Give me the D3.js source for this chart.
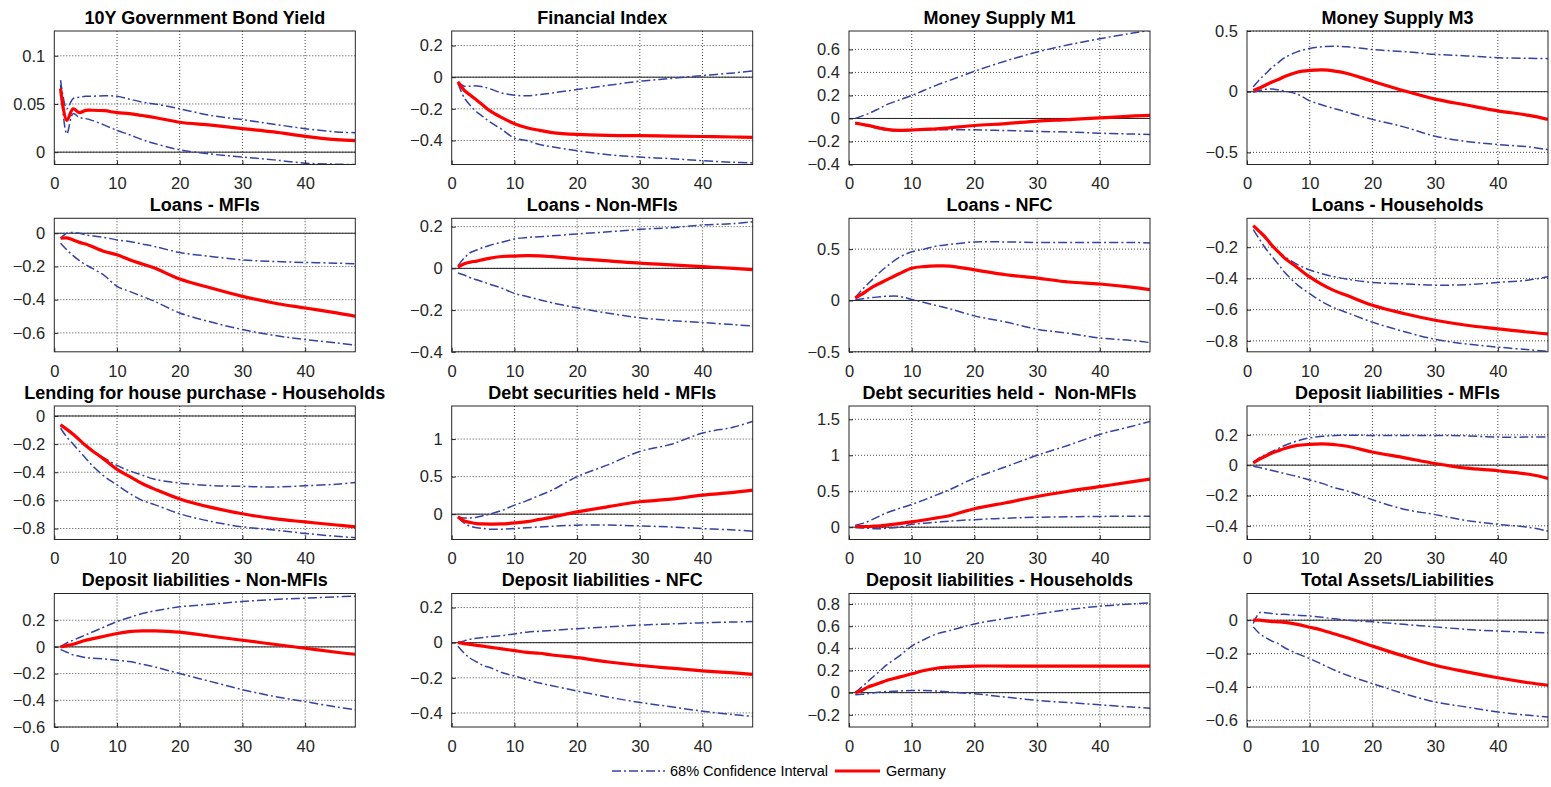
<!DOCTYPE html>
<html>
<head>
<meta charset="utf-8">
<script src="https://cdn.jsdelivr.net/npm/d3@7"></script>
<style>
  body { margin: 0; background: #fff; }
  svg { font-family: "Liberation Sans", Arial, Helvetica, sans-serif; }
</style>
</head>
<body>
<script>
var H = [1, 2, 3, 4, 5, 6, 8, 10, 12, 14, 16, 20, 25, 30, 35, 40, 45, 48];

var titles = [
  "10Y Government Bond Yield", "Financial Index", "Money Supply M1", "Money Supply M3",
  "Loans - MFIs", "Loans - Non-MFIs", "Loans - NFC", "Loans - Households",
  "Lending for house purchase - Households", "Debt securities held - MFIs",
  "Debt securities held -  Non-MFIs", "Deposit liabilities - MFIs",
  "Deposit liabilities - Non-MFIs", "Deposit liabilities - NFC",
  "Deposit liabilities - Households", "Total Assets/Liabilities"
];

var xTicks = [0, 10, 20, 30, 40];

var yTicks = [
  [0, 0.05, 0.1], [-0.4, -0.2, 0, 0.2], [-0.4, -0.2, 0, 0.2, 0.4, 0.6], [-0.5, 0, 0.5],
  [-0.6, -0.4, -0.2, 0], [-0.4, -0.2, 0, 0.2], [-0.5, 0, 0.5], [-0.8, -0.6, -0.4, -0.2],
  [-0.8, -0.6, -0.4, -0.2, 0], [0, 0.5, 1], [0, 0.5, 1, 1.5], [-0.4, -0.2, 0, 0.2],
  [-0.6, -0.4, -0.2, 0, 0.2], [-0.4, -0.2, 0, 0.2], [-0.2, 0, 0.2, 0.4, 0.6, 0.8], [-0.6, -0.4, -0.2, 0]
];

var yDomains = [
  [-0.0128, 0.1257], [-0.552, 0.292], [-0.4, 0.76], [-0.6, 0.5],
  [-0.714, 0.09], [-0.4, 0.24], [-0.5, 0.8], [-0.87, -0.015],
  [-0.878, 0.071], [-0.337, 1.44], [-0.171, 1.685], [-0.49, 0.39],
  [-0.6, 0.4], [-0.48, 0.28], [-0.31, 0.895], [-0.64, 0.16]
];

// 68% confidence band, lower edge
var lowerCI = [
  [0.07, 0.019, 0.040, 0.036, 0.0348, 0.033, 0.028, 0.0226, 0.018, 0.013, 0.009, 0.0025, -0.002, -0.005, -0.008, -0.0114, -0.0125, -0.0128],
  [-0.04, -0.13, -0.18, -0.22, -0.25, -0.28, -0.33, -0.385, -0.40, -0.425, -0.44, -0.465, -0.49, -0.505, -0.515, -0.528, -0.538, -0.542],
  [-0.035, -0.05, -0.065, -0.08, -0.09, -0.1, -0.11, -0.104, -0.1, -0.098, -0.097, -0.099, -0.105, -0.113, -0.118, -0.128, -0.135, -0.139],
  [-0.005, 0.01, 0.02, 0.022, 0.015, 0.005, -0.02, -0.075, -0.11, -0.14, -0.17, -0.228, -0.29, -0.367, -0.41, -0.436, -0.455, -0.478],
  [-0.06, -0.1, -0.135, -0.165, -0.19, -0.21, -0.255, -0.32, -0.35, -0.38, -0.41, -0.48, -0.535, -0.58, -0.615, -0.64, -0.66, -0.674],
  [-0.022, -0.032, -0.045, -0.055, -0.065, -0.075, -0.095, -0.12, -0.135, -0.15, -0.165, -0.189, -0.215, -0.237, -0.25, -0.26, -0.27, -0.276],
  [0.01, 0.015, 0.025, 0.03, 0.035, 0.04, 0.04, 0.01, -0.02, -0.05, -0.08, -0.15, -0.21, -0.28, -0.32, -0.365, -0.39, -0.41],
  [-0.088, -0.15, -0.21, -0.26, -0.31, -0.36, -0.44, -0.497, -0.55, -0.59, -0.62, -0.68, -0.74, -0.79, -0.82, -0.84, -0.857, -0.867],
  [-0.087, -0.15, -0.2, -0.25, -0.3, -0.35, -0.43, -0.49, -0.55, -0.6, -0.63, -0.695, -0.75, -0.788, -0.81, -0.835, -0.855, -0.865],
  [-0.045, -0.12, -0.16, -0.18, -0.19, -0.2, -0.2, -0.19, -0.18, -0.17, -0.16, -0.147, -0.145, -0.156, -0.17, -0.192, -0.21, -0.228],
  [0.0, -0.01, -0.015, -0.02, -0.02, -0.015, 0.0, 0.04, 0.055, 0.07, 0.085, 0.105, 0.125, 0.138, 0.145, 0.15, 0.152, 0.152],
  [-0.007, -0.015, -0.025, -0.035, -0.045, -0.055, -0.075, -0.098, -0.12, -0.15, -0.17, -0.228, -0.29, -0.326, -0.365, -0.39, -0.41, -0.435],
  [-0.02, -0.04, -0.06, -0.07, -0.08, -0.085, -0.09, -0.1, -0.11, -0.13, -0.15, -0.2, -0.26, -0.32, -0.37, -0.41, -0.45, -0.47],
  [-0.02, -0.06, -0.09, -0.11, -0.13, -0.14, -0.17, -0.19, -0.21, -0.23, -0.245, -0.275, -0.31, -0.34, -0.365, -0.39, -0.41, -0.42],
  [-0.02, -0.015, -0.01, 0.0, 0.005, 0.01, 0.015, 0.02, 0.02, 0.015, 0.005, -0.01, -0.04, -0.07, -0.09, -0.11, -0.13, -0.14],
  [-0.04, -0.08, -0.105, -0.125, -0.14, -0.165, -0.2, -0.23, -0.265, -0.3, -0.33, -0.38, -0.44, -0.49, -0.52, -0.55, -0.57, -0.58]
];

// 68% confidence band, upper edge
var upperCI = [
  [0.0747, 0.045, 0.0556, 0.057, 0.058, 0.058, 0.0585, 0.058, 0.055, 0.052, 0.050, 0.045, 0.038, 0.0337, 0.029, 0.0244, 0.021, 0.0202],
  [-0.03, -0.057, -0.057, -0.055, -0.061, -0.072, -0.10, -0.114, -0.118, -0.11, -0.10, -0.078, -0.051, -0.025, -0.008, 0.01, 0.027, 0.04],
  [0.0, 0.02, 0.04, 0.065, 0.09, 0.12, 0.16, 0.2, 0.245, 0.29, 0.33, 0.41, 0.5, 0.577, 0.64, 0.693, 0.74, 0.765],
  [0.04, 0.1, 0.15, 0.2, 0.24, 0.28, 0.328, 0.356, 0.37, 0.375, 0.37, 0.347, 0.33, 0.308, 0.295, 0.28, 0.275, 0.272],
  [-0.03, 0.0, 0.004, 0.0, -0.01, -0.015, -0.025, -0.04, -0.05, -0.065, -0.08, -0.116, -0.14, -0.16, -0.17, -0.176, -0.18, -0.184],
  [0.013, 0.05, 0.076, 0.088, 0.1, 0.11, 0.125, 0.141, 0.148, 0.152, 0.156, 0.165, 0.175, 0.187, 0.195, 0.208, 0.215, 0.224],
  [0.026, 0.1, 0.16, 0.22, 0.28, 0.33, 0.42, 0.474, 0.5, 0.53, 0.545, 0.57, 0.57, 0.565, 0.565, 0.565, 0.565, 0.56],
  [-0.067, -0.1, -0.14, -0.19, -0.23, -0.26, -0.31, -0.346, -0.37, -0.39, -0.405, -0.426, -0.435, -0.443, -0.44, -0.426, -0.41, -0.39],
  [-0.063, -0.095, -0.13, -0.17, -0.21, -0.245, -0.3, -0.351, -0.39, -0.42, -0.45, -0.477, -0.495, -0.5, -0.505, -0.496, -0.485, -0.473],
  [-0.036, -0.05, -0.05, -0.04, -0.02, 0.0, 0.05, 0.12, 0.18, 0.25, 0.32, 0.5, 0.66, 0.835, 0.93, 1.08, 1.16, 1.237],
  [0.028, 0.05, 0.08, 0.12, 0.16, 0.2, 0.26, 0.317, 0.38, 0.45, 0.52, 0.683, 0.84, 1.0, 1.14, 1.29, 1.4, 1.47],
  [0.015, 0.05, 0.07, 0.09, 0.11, 0.13, 0.16, 0.18, 0.19, 0.195, 0.197, 0.196, 0.195, 0.196, 0.193, 0.185, 0.185, 0.185],
  [0.0, 0.03, 0.05, 0.07, 0.09, 0.11, 0.15, 0.19, 0.22, 0.25, 0.27, 0.3, 0.32, 0.34, 0.355, 0.365, 0.375, 0.38],
  [0.0, 0.01, 0.02, 0.025, 0.03, 0.035, 0.04, 0.05, 0.06, 0.065, 0.07, 0.08, 0.09, 0.1, 0.107, 0.113, 0.118, 0.12],
  [0.0, 0.05, 0.1, 0.15, 0.2, 0.25, 0.33, 0.42, 0.48, 0.53, 0.56, 0.62, 0.67, 0.71, 0.75, 0.78, 0.8, 0.81],
  [-0.02, 0.045, 0.045, 0.04, 0.035, 0.035, 0.03, 0.025, 0.017, 0.008, 0.0, -0.01, -0.025, -0.04, -0.055, -0.065, -0.072, -0.075]
];

// median response, Germany
var germany = [
  [0.066, 0.033, 0.045, 0.041, 0.0434, 0.0435, 0.043, 0.041, 0.040, 0.038, 0.036, 0.031, 0.028, 0.0244, 0.021, 0.0164, 0.013, 0.0119],
  [-0.03, -0.083, -0.114, -0.146, -0.178, -0.21, -0.256, -0.294, -0.32, -0.336, -0.35, -0.362, -0.368, -0.37, -0.372, -0.375, -0.378, -0.381],
  [-0.04, -0.05, -0.06, -0.072, -0.085, -0.095, -0.104, -0.1, -0.095, -0.09, -0.082, -0.061, -0.045, -0.023, -0.01, 0.005, 0.02, 0.026],
  [0.01, 0.03, 0.055, 0.08, 0.1, 0.125, 0.16, 0.175, 0.18, 0.17, 0.15, 0.086, 0.008, -0.061, -0.11, -0.158, -0.195, -0.228],
  [-0.03, -0.028, -0.04, -0.055, -0.065, -0.08, -0.11, -0.13, -0.16, -0.185, -0.21, -0.276, -0.33, -0.38, -0.42, -0.45, -0.48, -0.5],
  [0.006, 0.022, 0.03, 0.035, 0.042, 0.048, 0.057, 0.059, 0.061, 0.06, 0.056, 0.046, 0.036, 0.025, 0.017, 0.008, 0.0, -0.006],
  [0.026, 0.06, 0.1, 0.14, 0.17, 0.2, 0.26, 0.314, 0.33, 0.336, 0.335, 0.298, 0.25, 0.218, 0.18, 0.16, 0.13, 0.106],
  [-0.062, -0.1, -0.14, -0.19, -0.23, -0.27, -0.33, -0.39, -0.44, -0.48, -0.51, -0.572, -0.625, -0.668, -0.7, -0.723, -0.745, -0.755],
  [-0.063, -0.095, -0.13, -0.17, -0.21, -0.245, -0.31, -0.379, -0.43, -0.48, -0.52, -0.59, -0.65, -0.695, -0.73, -0.753, -0.775, -0.788],
  [-0.036, -0.09, -0.11, -0.125, -0.13, -0.132, -0.13, -0.116, -0.1, -0.07, -0.04, 0.03, 0.1, 0.165, 0.2, 0.254, 0.29, 0.32],
  [0.005, 0.008, 0.01, 0.015, 0.02, 0.03, 0.05, 0.073, 0.1, 0.13, 0.16, 0.257, 0.34, 0.427, 0.5, 0.564, 0.63, 0.67],
  [0.015, 0.04, 0.06, 0.08, 0.095, 0.11, 0.13, 0.137, 0.14, 0.135, 0.125, 0.087, 0.05, 0.011, -0.02, -0.037, -0.06, -0.087],
  [0.0, 0.01, 0.02, 0.035, 0.05, 0.06, 0.08, 0.1, 0.115, 0.12, 0.12, 0.11, 0.08, 0.05, 0.02, -0.01, -0.04, -0.055],
  [0.0, -0.005, -0.01, -0.015, -0.02, -0.025, -0.035, -0.045, -0.055, -0.06, -0.07, -0.085, -0.11, -0.13, -0.145, -0.16, -0.172, -0.18],
  [0.0, 0.02, 0.05, 0.07, 0.09, 0.11, 0.14, 0.17, 0.2, 0.22, 0.23, 0.24, 0.24, 0.24, 0.24, 0.24, 0.24, 0.24],
  [0.0, 0.0, -0.004, -0.008, -0.01, -0.013, -0.025, -0.042, -0.06, -0.083, -0.105, -0.155, -0.215, -0.27, -0.31, -0.345, -0.375, -0.39]
];

var W = 1551, Hgt = 787;
var colLeft = [54.3, 451.7, 849, 1247];
var rowTop = [31, 218.3, 406, 593.5];
var pw = 301, ph = 133.5;
var blue = "#3443a3", red = "#ff0000";
var dashDot = "9,3,2,3";

var svg = d3.select("body").append("svg")
  .attr("width", W).attr("height", Hgt);

titles.forEach(function(title, i) {
  var g = svg.append("g")
    .attr("transform", "translate(" + colLeft[i % 4] + "," + rowTop[Math.floor(i / 4)] + ")");

  var x = d3.scaleLinear().domain([0, 48]).range([0, pw]);
  var y = d3.scaleLinear().domain(yDomains[i]).range([ph, 0]);

  g.append("rect").attr("width", pw).attr("height", ph).attr("fill", "#fff");

  // dotted grid
  g.selectAll(".gx").data(xTicks.filter(function(t) { return t > 0; })).enter().append("line")
    .attr("x1", function(d) { return x(d); }).attr("x2", function(d) { return x(d); })
    .attr("y1", 0).attr("y2", ph)
    .attr("stroke", "#333").attr("stroke-dasharray", "1,2").attr("stroke-width", 0.9);
  g.selectAll(".gy").data(yTicks[i]).enter().append("line")
    .attr("x1", 0).attr("x2", pw)
    .attr("y1", function(d) { return y(d); }).attr("y2", function(d) { return y(d); })
    .attr("stroke", "#333").attr("stroke-dasharray", "1,2").attr("stroke-width", 0.9);

  var clipId = "clip" + i;
  g.append("clipPath").attr("id", clipId).append("rect").attr("width", pw).attr("height", ph);
  var plot = g.append("g").attr("clip-path", "url(#" + clipId + ")");

  // zero line
  if (yDomains[i][0] < 0 && yDomains[i][1] > 0) {
    plot.append("line").attr("x1", 0).attr("x2", pw)
      .attr("y1", y(0)).attr("y2", y(0))
      .attr("stroke", "#222").attr("stroke-width", 1);
  }

  var line = d3.line()
    .x(function(d, k) { return x(H[k]); })
    .y(function(d) { return y(d); })
    .curve(d3.curveCatmullRom.alpha(0.5));

  [lowerCI[i], upperCI[i]].forEach(function(s) {
    plot.append("path").attr("d", line(s))
      .attr("fill", "none").attr("stroke", blue).attr("stroke-width", 1.5)
      .attr("stroke-dasharray", dashDot);
  });
  plot.append("path").attr("d", line(germany[i]))
    .attr("fill", "none").attr("stroke", red).attr("stroke-width", 3.2)
    .attr("stroke-linejoin", "round");

  // axes
  var xa = g.append("g").attr("transform", "translate(0," + ph + ")")
    .call(d3.axisBottom(x).tickValues(xTicks).tickSize(-4).tickPadding(10).tickFormat(d3.format("d")));
  var ya = g.append("g")
    .call(d3.axisLeft(y).tickValues(yTicks[i]).tickSize(-4).tickPadding(9)
      .tickFormat(function(d) { return d3.format("~g")(d); }));
  [xa, ya].forEach(function(a) {
    a.attr("font-size", null).attr("font-family", null);
    a.select(".domain").remove();
    a.selectAll(".tick line").attr("stroke", "#262626");
    a.selectAll("text").attr("fill", "#262626")
      .attr("font-size", "16.5px").attr("font-family", "'Liberation Sans', Arial, sans-serif");
  });
  xa.selectAll("text").attr("dy", "0.9em");

  g.append("rect").attr("width", pw).attr("height", ph)
    .attr("fill", "none").attr("stroke", "#262626").attr("stroke-width", 1);

  g.append("text").attr("x", pw / 2).attr("y", -7.5)
    .attr("text-anchor", "middle").attr("font-size", "18px").attr("font-weight", "bold")
    .style("white-space", "pre").attr("fill", "#000").text(title);
});

// legend
var leg = svg.append("g").attr("transform", "translate(612,771)");
leg.append("line").attr("x1", 0).attr("x2", 53).attr("y1", 0).attr("y2", 0)
  .attr("stroke", blue).attr("stroke-width", 1.5).attr("stroke-dasharray", dashDot);
leg.append("text").attr("x", 58).attr("y", 5).attr("font-size", "14.5px").attr("fill", "#000")
  .text("68% Confidence Interval");
leg.append("line").attr("x1", 223).attr("x2", 268).attr("y1", 0).attr("y2", 0)
  .attr("stroke", red).attr("stroke-width", 3.2);
leg.append("text").attr("x", 274).attr("y", 5).attr("font-size", "14.5px").attr("fill", "#000")
  .text("Germany");
</script>
</body>
</html>
